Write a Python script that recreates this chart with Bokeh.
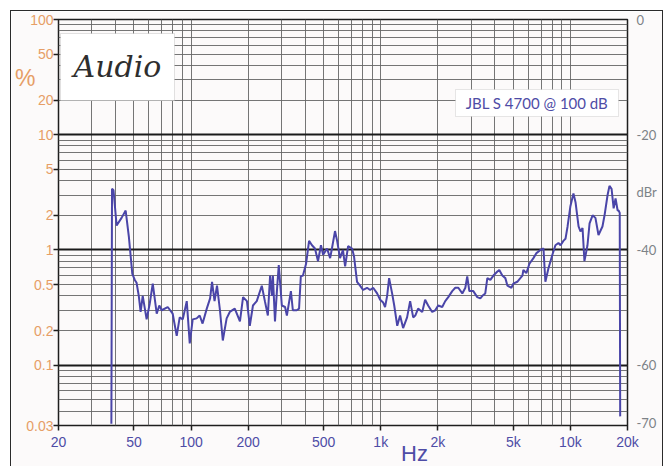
import math
from bokeh.plotting import figure
from bokeh.models import (FixedTicker, Grid, Label, BoxAnnotation, LogAxis, LinearAxis, Range1d,
                          LinearScale)
from bokeh.embed import file_html
from bokeh.resources import INLINE

# ---------------- data ----------------
freq_hz = [38.0, 38.3, 39.0, 40.5, 43.0, 45.2, 47.0, 49.0, 50.5, 51.6, 53.0, 54.2, 55.6, 58.3,
           60.5, 62.8, 65.9, 68.0, 70.0, 75.3, 80.0, 84.0, 87.1, 90.4, 94.9, 98.4, 102, 107,
           111, 115, 121, 126, 129, 133, 137, 142, 147, 154, 160, 170, 181, 188, 197, 204,
           212, 222, 236, 245, 254, 261, 267, 270, 277, 284, 290, 301, 313, 320, 336, 344,
           361, 371, 379, 389, 404, 419, 434, 450, 467, 484, 497, 521, 541, 553, 574, 589,
           610, 632, 649, 673, 706, 723, 750, 778, 807, 847, 879, 912, 957, 993, 1030, 1054,
           1081, 1107, 1148, 1178, 1222, 1265, 1312, 1377, 1429, 1483, 1521, 1574, 1655, 1714,
           1778, 1867, 1937, 2009, 2109, 2188, 2270, 2382, 2472, 2564, 2692, 2793, 2858, 2931,
           3076, 3228, 3350, 3436, 3557, 3648, 3784, 3926, 4122, 4217, 4375, 4539, 4656, 4887,
           5000, 5248, 5445, 5585, 5649, 5861, 6081, 6383, 6622, 6950, 7211, 7380, 7656, 8035,
           8337, 8650, 8872, 9184, 9420, 9662, 10000, 10376, 10641, 11041, 11298, 11588, 11858,
           12303, 12619, 13092, 13551, 14061, 14757, 15136, 15704, 16069, 16482, 16905, 17299,
           17744, 17950, 18200, 18300]
thd_pct = [0.031, 3.4, 3.3, 1.63, 1.9, 2.2, 1.3, 0.62, 0.55, 0.52, 0.40, 0.29, 0.40, 0.25,
           0.34, 0.51, 0.28, 0.33, 0.30, 0.32, 0.28, 0.18, 0.26, 0.25, 0.36, 0.155, 0.25, 0.255,
           0.27, 0.23, 0.31, 0.38, 0.53, 0.36, 0.49, 0.30, 0.164, 0.255, 0.29, 0.31, 0.24, 0.39, 0.36, 0.22,
           0.33, 0.36, 0.49, 0.36, 0.27, 0.60, 0.40, 0.60, 0.24, 0.46, 0.74, 0.33, 0.32, 0.27, 0.44, 0.30,
           0.30, 0.31, 0.59, 0.60, 0.76, 1.2, 1.1, 1.03, 0.80, 1.1, 0.91, 1.03, 0.85, 1.03, 1.46, 1.20,
           0.85, 1.0, 0.72, 1.08, 1.03, 0.88, 0.53, 0.49, 0.45, 0.47, 0.45, 0.47, 0.42, 0.37, 0.35, 0.32,
           0.40, 0.57, 0.42, 0.33, 0.22, 0.27, 0.21, 0.26, 0.36, 0.26, 0.27, 0.31, 0.29, 0.37,
           0.33, 0.29, 0.30, 0.33, 0.32, 0.36, 0.39, 0.44, 0.47, 0.47, 0.42, 0.47, 0.59, 0.44,
           0.44, 0.39, 0.38, 0.40, 0.42, 0.57, 0.55, 0.60, 0.65, 0.67, 0.60, 0.57, 0.49, 0.47,
           0.51, 0.53, 0.57, 0.60, 0.67, 0.63, 0.76, 0.85, 0.94, 1.0, 1.03, 0.53, 0.69, 0.91,
           1.1, 1.15, 1.1, 1.2, 1.25, 1.6, 2.4, 3.1, 2.6, 1.6, 1.45, 1.55, 0.8,
           1.1, 1.7, 2.0, 1.9, 1.35, 1.6, 2.0, 3.0, 3.6, 3.4, 2.3, 2.8,
           2.2, 2.2, 2.1, 0.036]

x_ticks = [20, 50, 100, 200, 500, 1000, 2000, 5000, 10000, 20000]
x_tick_labels = ["20", "50", "100", "200", "500", "1k", "2k", "5k", "10k", "20k"]
y_ticks = [100, 50, 20, 10, 5, 2, 1, 0.5, 0.2, 0.1, 0.03]
y_tick_labels = ["100", "50", "20", "10", "5", "2", "1", "0.5", "0.2", "0.1", "0.03"]
db_ticks = [0, -20, -30, -40, -60, -70]
db_tick_labels = ["0", "-20", "dBr", "-40", "-60", "-70"]
legend_text = "JBL S 4700 @ 100 dB"
logo_text = "Audio"

# ---------------- layout helpers ----------------
X_MIN, X_MAX = 20, 20000
Y_MIN, Y_MAX = 0.03, 100
DB_MIN = 20 * math.log10(Y_MIN / Y_MAX)
PAGE_X0, PAGE_Y0 = 11, 11               # where the figure element sits on the page
FR_L, FR_T, FR_W, FR_H = 58, 19, 569, 406   # frame in page pixels
FIG_W, FIG_H = 651, 452
BG = "#fcfafa"
ORANGE = "#e69e66"
BLUE = "#4e4ca6"
GREY = "#7d8287"
LINE = "#4a45a8"


def fx(px):
    return X_MIN * 10 ** (math.log10(X_MAX / X_MIN) * (px - FR_L) / FR_W)


def fy(py):
    return Y_MAX * 10 ** (-math.log10(Y_MAX / Y_MIN) * (py - FR_T) / FR_H)


p = figure(x_axis_type="log", y_axis_type="log",
           x_range=(X_MIN, X_MAX), y_range=(Y_MIN, Y_MAX),
           frame_width=FR_W, frame_height=FR_H,
           min_border_left=FR_L - PAGE_X0, min_border_top=FR_T - PAGE_Y0,
           min_border_right=FIG_W - (FR_L - PAGE_X0) - FR_W,
           min_border_bottom=FIG_H - (FR_T - PAGE_Y0) - FR_H,
           output_backend="svg", toolbar_location=None,
           background_fill_color=BG, border_fill_color=BG)
p.styles = {"margin-left": f"{PAGE_X0}px", "margin-top": f"{PAGE_Y0}px",
            "outline": "1.5px solid #2b2b2b"}

p.outline_line_color = "#1e1e1e"
p.outline_line_width = 1.5

# grids
minor_x = [m * 10 ** e for e in range(1, 5) for m in range(1, 10) if X_MIN < m * 10 ** e < X_MAX]
minor_y = [m * 10.0 ** e for e in range(-2, 2) for m in range(1, 10) if Y_MIN < m * 10.0 ** e < Y_MAX]
p.xgrid.ticker = FixedTicker(ticks=minor_x)
p.ygrid.ticker = FixedTicker(ticks=minor_y)
for g in (p.xgrid, p.ygrid):
    g.grid_line_color = "#666666"
    g.grid_line_width = 1
    g.grid_line_alpha = 0.9
p.add_layout(Grid(dimension=1, ticker=FixedTicker(ticks=[0.1, 1, 10]),
                  grid_line_color="#1a1a1a", grid_line_width=2))

# main axes
p.xaxis.ticker = FixedTicker(ticks=x_ticks)
p.xaxis.major_label_overrides = {t: l for t, l in zip(x_ticks, x_tick_labels)}
p.yaxis.ticker = FixedTicker(ticks=y_ticks)
p.yaxis.major_label_overrides = {t: l for t, l in zip(y_ticks, y_tick_labels)}
for ax in (p.xaxis, p.yaxis):
    ax.axis_line_color = None
    ax.minor_tick_line_color = None
    ax.major_tick_in = 0
    ax.major_tick_out = 5
    ax.major_tick_line_color = "#1e1e1e"
    ax.major_tick_line_width = 1.5
    ax.major_label_text_font = "Liberation Sans"
    ax.major_label_text_font_size = "14px"
    ax.major_label_standoff = 3
p.yaxis.major_label_text_color = ORANGE
p.yaxis.major_label_standoff = 0
p.xaxis.major_label_text_color = BLUE


def text_axis(axis, tick, text, color, size, standoff):
    axis.ticker = FixedTicker(ticks=[tick])
    axis.major_label_overrides = {tick: text}
    axis.axis_line_color = None
    axis.major_tick_line_color = None
    axis.minor_tick_line_color = None
    axis.major_tick_in = 0
    axis.major_tick_out = 0
    axis.minor_tick_out = 0
    axis.major_label_standoff = standoff
    axis.major_label_text_font = "Liberation Sans"
    axis.major_label_text_font_size = size
    axis.major_label_text_color = color
    return axis


# "%" unit label (left) and "Hz" unit label (bottom)
p.add_layout(text_axis(LogAxis(), fy(77), "%", ORANGE, "23px", -12), "left")
p.add_layout(text_axis(LogAxis(), fx(414), "Hz", BLUE, "22px", -12), "below")

# right dBr scale (linear in dB, spans exactly the same height as the % axis)
p.extra_y_ranges = {"db": Range1d(start=DB_MIN, end=0)}
p.extra_y_scales = {"db": LinearScale()}
db_axis = LinearAxis(y_range_name="db", ticker=FixedTicker(ticks=db_ticks),
                     major_label_overrides={t: l for t, l in zip(db_ticks, db_tick_labels)})
db_axis.axis_line_color = None
db_axis.major_tick_line_color = None
db_axis.minor_tick_line_color = None
db_axis.major_tick_in = 0
db_axis.major_tick_out = 0
db_axis.minor_tick_out = 0
db_axis.major_label_standoff = 9
db_axis.major_label_text_font = "Lato"
db_axis.major_label_text_font_size = "13px"
db_axis.major_label_text_color = GREY
p.add_layout(db_axis, "right")

# data
p.line(freq_hz, thd_pct, line_color=LINE, line_width=2)

# logo box
p.add_layout(BoxAnnotation(left=fx(60), right=fx(174), top=fy(33), bottom=fy(100),
                           fill_color="white", fill_alpha=1, line_color="#a0a0a0", line_width=1))
p.add_layout(Label(x=fx(117), y=fy(66), text=logo_text, text_align="center", text_baseline="middle",
                   text_font="DejaVu Serif", text_font_style="italic", text_font_size="30px",
                   text_color="#2e2e2e"))

# legend box
p.add_layout(BoxAnnotation(left=fx(455), right=fx(618), top=fy(89), bottom=fy(116),
                           fill_color="white", fill_alpha=1, line_color="#b0b0b0", line_width=1))
p.add_layout(Label(x=fx(536.5), y=fy(102.5), text=legend_text, text_align="center", text_baseline="middle",
                   text_font="Lato", text_font_size="15px", text_color=BLUE))

open("out.html", "w").write(file_html(p, INLINE))
